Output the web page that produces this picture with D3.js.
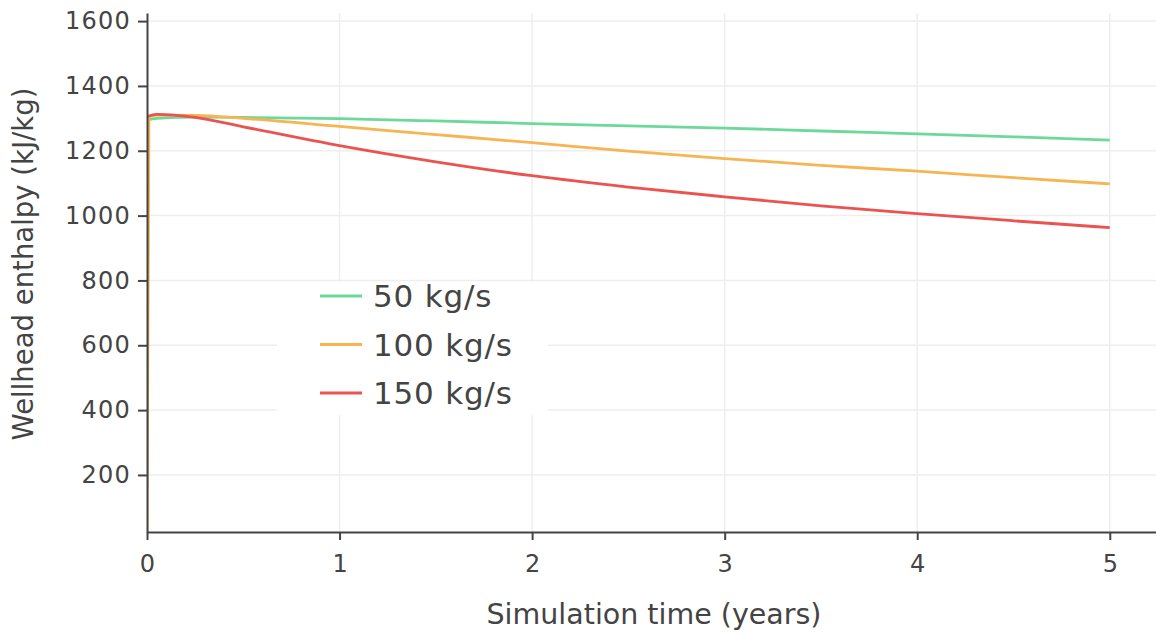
<!DOCTYPE html>
<html>
<head>
<meta charset="utf-8">
<script src="https://cdn.jsdelivr.net/npm/d3@7"></script>
<style>
  html, body { margin: 0; padding: 0; background: #fff; }
  svg { display: block; }
  text { font-family: "DejaVu Sans", Verdana, sans-serif; fill: #444; }
</style>
</head>
<body>
<svg id="chart" width="1156" height="634"></svg>
<script>
// ---- Data ----
const seriesNames = ["50 kg/s", "100 kg/s", "150 kg/s"];
const seriesColors = ["#6cd99a", "#f7b452", "#ea5350"];

const time50 = [0, 0.05, 0.25, 0.5, 1, 1.5, 2, 2.5, 3, 3.5, 4, 4.5, 5];
const enthalpy50 = [1295, 1300, 1304, 1303, 1299, 1292, 1284, 1277, 1270, 1261, 1252, 1243, 1233];

const time100 = [0, 0.01, 0.05, 0.25, 0.5, 1, 1.5, 2, 2.5, 3, 3.5, 4, 4.5, 5];
const enthalpy100 = [0, 1305, 1310, 1309, 1300, 1275, 1250, 1225, 1199, 1176, 1155, 1137, 1117, 1098];

const time150 = [0, 0.05, 0.25, 0.5, 1, 1.5, 2, 2.5, 3, 3.5, 4, 4.5, 5];
const enthalpy150 = [1305, 1312, 1303, 1274, 1216, 1166, 1123, 1088, 1058, 1030, 1006, 984, 963];

const xTicks = [0, 1, 2, 3, 4, 5];
const yTicks = [200, 400, 600, 800, 1000, 1200, 1400, 1600];
const xTitle = "Simulation time (years)";
const yTitle = "Wellhead enthalpy (kJ/kg)";

// ---- Layout ----
const svg = d3.select("#chart");
const pLeft = 147, pRight = 1156, pTop = 13, pBottom = 532;

const x = d3.scaleLinear().domain([0, 5.24]).range([pLeft, pRight]);
const y = d3.scaleLinear().domain([24, 1625]).range([pBottom, pTop]);

svg.append("rect").attr("width", 1156).attr("height", 634).attr("fill", "#fff");

// grid
const grid = svg.append("g");
grid.selectAll("line.gx").data(xTicks.filter(d => d > 0)).enter().append("line")
  .attr("x1", d => x(d)).attr("x2", d => x(d)).attr("y1", pTop).attr("y2", pBottom)
  .attr("stroke", "#eeeeee").attr("stroke-width", 1.5);
grid.selectAll("line.gy").data(yTicks).enter().append("line")
  .attr("x1", pLeft).attr("x2", pRight).attr("y1", d => y(d)).attr("y2", d => y(d))
  .attr("stroke", "#eeeeee").attr("stroke-width", 1.5);

// clip
svg.append("clipPath").attr("id", "plotclip").append("rect")
  .attr("x", pLeft).attr("y", pTop).attr("width", pRight - pLeft).attr("height", pBottom - pTop);

const line = d3.line().x(d => x(d[0])).y(d => y(d[1])).curve(d3.curveMonotoneX);
const series = [
  d3.zip(time50, enthalpy50),
  d3.zip(time100, enthalpy100),
  d3.zip(time150, enthalpy150)
];
const lines = svg.append("g").attr("clip-path", "url(#plotclip)");
series.forEach((s, i) => {
  lines.append("path").datum(s)
    .attr("d", line)
    .attr("fill", "none")
    .attr("stroke", seriesColors[i])
    .attr("stroke-width", 2.8)
    .attr("stroke-linejoin", "round");
});

// axes
const xAxis = d3.axisBottom(x).tickValues(xTicks).tickSize(8).tickSizeOuter(0).tickPadding(15)
  .tickFormat(d3.format("d"));
const gx = svg.append("g").attr("transform", `translate(0,${pBottom})`).call(xAxis);
gx.select(".domain").attr("stroke", "#444").attr("stroke-width", 2);
gx.selectAll(".tick line").attr("stroke", "#444").attr("stroke-width", 2);
gx.selectAll(".tick text").style("font-size", "24px").attr("fill", "#444")
  .style("font-family", '"DejaVu Sans", Verdana, sans-serif');

const yAxis = d3.axisLeft(y).tickValues(yTicks).tickSize(9).tickSizeOuter(0).tickPadding(7)
  .tickFormat(d3.format("d"));
const gy = svg.append("g").attr("transform", `translate(${pLeft},0)`).call(yAxis);
gy.select(".domain").attr("stroke", "#444").attr("stroke-width", 2);
gy.selectAll(".tick line").attr("stroke", "#444").attr("stroke-width", 2);
gy.selectAll(".tick text").style("font-size", "24px").attr("fill", "#444")
  .style("letter-spacing", "1.2px")
  .style("font-family", '"DejaVu Sans", Verdana, sans-serif');

// titles
svg.append("text").attr("x", 654).attr("y", 624)
  .attr("text-anchor", "middle").style("font-size", "28.5px").text(xTitle);
svg.append("text")
  .attr("transform", `translate(33,264) rotate(-90)`)
  .attr("text-anchor", "middle").style("font-size", "27.5px").text(yTitle);

// legend
const lg = svg.append("g");
lg.append("rect").attr("x", 277).attr("y", 282).attr("width", 271).attr("height", 133).attr("fill", "#fff");
seriesNames.forEach((name, i) => {
  const cy = 296 + i * 48.5;
  lg.append("line").attr("x1", 320).attr("x2", 362).attr("y1", cy).attr("y2", cy)
    .attr("stroke", seriesColors[i]).attr("stroke-width", 3);
  lg.append("text").attr("x", 373).attr("y", cy).attr("dy", "0.36em")
    .style("font-size", "31px").style("letter-spacing", "0.8px").text(name);
});
</script>
</body>
</html>
